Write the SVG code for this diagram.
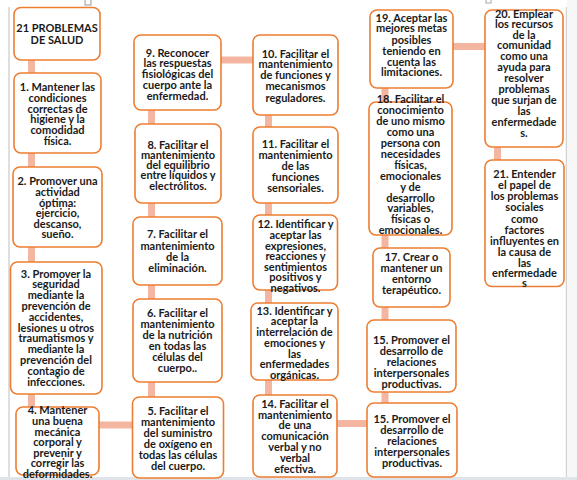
<svg xmlns="http://www.w3.org/2000/svg" width="577" height="480" viewBox="0 0 577 480">
<style>
.box{fill:#fff;stroke:#ED7D31;stroke-width:1.6}
.c{stroke:#F4B6A0;stroke-width:7;fill:none}
text{font-family:Lato,"Liberation Sans",sans-serif;font-weight:bold;font-size:11px;fill:#1a1a1a;text-anchor:middle;dominant-baseline:central}
.frame{stroke:#d4d4d4;stroke-width:1.5;fill:none}
</style>
<rect x="0" y="0" width="577" height="480" fill="#fff"/>
<g id="frame">
<line class="frame" x1="9" y1="7" x2="9" y2="480"/>
<line class="frame" x1="566.5" y1="7" x2="566.5" y2="480"/>
<rect x="567" y="0" width="10" height="480" fill="#f7f7f7"/>
<rect x="0" y="477" width="577" height="3" fill="#dfe4ea"/>
<rect x="85" y="-1" width="6" height="6" fill="#fff" stroke="#999" stroke-width="1"/>
<rect x="486" y="-1" width="5" height="4" fill="#fff" stroke="#aaa" stroke-width="1"/>
</g>
<g id="connectors">
<line class="c" x1="31.5" y1="60" x2="31.5" y2="73"/>
<line class="c" x1="31.5" y1="153" x2="31.5" y2="167"/>
<line class="c" x1="31.5" y1="247" x2="31.5" y2="262"/>
<line class="c" x1="31.5" y1="394" x2="31.5" y2="407"/>
<line class="c" x1="99" y1="425" x2="133" y2="425"/>
<line class="c" x1="151.5" y1="382" x2="151.5" y2="397"/>
<line class="c" x1="151.5" y1="285" x2="151.5" y2="299"/>
<line class="c" x1="151.5" y1="203" x2="151.5" y2="217"/>
<line class="c" x1="151.5" y1="110" x2="151.5" y2="124"/>
<line class="c" x1="221" y1="60" x2="253" y2="60"/>
<line class="c" x1="268.5" y1="115" x2="268.5" y2="127"/>
<line class="c" x1="268.5" y1="203" x2="268.5" y2="215"/>
<line class="c" x1="268.5" y1="290" x2="268.5" y2="303"/>
<line class="c" x1="268.5" y1="380" x2="268.5" y2="395"/>
<line class="c" x1="337" y1="423.5" x2="367" y2="423.5"/>
<line class="c" x1="385" y1="392" x2="385" y2="403"/>
<line class="c" x1="385" y1="307" x2="385" y2="320"/>
<line class="c" x1="385" y1="235" x2="385" y2="248"/>
<line class="c" x1="385" y1="88" x2="385" y2="102"/>
<line class="c" x1="453" y1="46.5" x2="485" y2="46.5"/>
<line class="c" x1="497.5" y1="147" x2="497.5" y2="160"/>
</g>
<g id="n0">
<rect class="box" x="14" y="7.5" width="86" height="52.5" rx="7"/>
<text x="57" y="27">21 PROBLEMAS</text>
<text x="57" y="39">DE SALUD</text>
</g>
<g id="n1">
<rect class="box" x="14" y="73" width="87" height="80" rx="7"/>
<text x="57.5" y="86">1. Mantener las</text>
<text x="57.5" y="97">condiciones</text>
<text x="57.5" y="108">correctas de</text>
<text x="57.5" y="118.5">higiene y la</text>
<text x="57.5" y="129">comodidad</text>
<text x="57.5" y="140">física.</text>
</g>
<g id="n2">
<rect class="box" x="13" y="167" width="89" height="80" rx="7"/>
<text x="57.5" y="180">2. Promover una</text>
<text x="57.5" y="191">actividad</text>
<text x="57.5" y="202">óptima:</text>
<text x="57.5" y="212.5">ejercicio,</text>
<text x="57.5" y="223">descanso,</text>
<text x="57.5" y="233.5">sueño.</text>
</g>
<g id="n3">
<rect class="box" x="10.5" y="262" width="91.5" height="132" rx="7"/>
<text x="56" y="273">3. Promover la</text>
<text x="56" y="283.8">seguridad</text>
<text x="56" y="294.6">mediante la</text>
<text x="56" y="305.4">prevención de</text>
<text x="56" y="316.2">accidentes,</text>
<text x="56" y="327">lesiones u otros</text>
<text x="56" y="337.8">traumatismos y</text>
<text x="56" y="348.6">mediante la</text>
<text x="56" y="359.4">prevención del</text>
<text x="56" y="370.2">contagio de</text>
<text x="56" y="381">infecciones.</text>
</g>
<g id="n4">
<rect class="box" x="16" y="407" width="83" height="68" rx="7"/>
<text x="57.5" y="409">4. Mantener</text>
<text x="57.5" y="420">una buena</text>
<text x="57.5" y="431">mecánica</text>
<text x="57.5" y="441.5">corporal y</text>
<text x="57.5" y="452">prevenir y</text>
<text x="57.5" y="462.5">corregir las</text>
<text x="57.5" y="473">deformidades.</text>
</g>
<g id="n5">
<rect class="box" x="132.5" y="397" width="91" height="81" rx="7"/>
<text x="178" y="410">5. Facilitar el</text>
<text x="178" y="421.5">mantenimiento</text>
<text x="178" y="432.5">del suministro</text>
<text x="178" y="443">de oxígeno en</text>
<text x="178" y="454">todas las células</text>
<text x="178" y="465">del cuerpo.</text>
</g>
<g id="n6">
<rect class="box" x="133" y="299" width="89" height="83" rx="7"/>
<text x="177.5" y="312">6. Facilitar el</text>
<text x="177.5" y="323">mantenimiento</text>
<text x="177.5" y="334.5">de la nutrición</text>
<text x="177.5" y="345.5">en todas las</text>
<text x="177.5" y="356.5">células del</text>
<text x="177.5" y="367.5">cuerpo..</text>
</g>
<g id="n7">
<rect class="box" x="133" y="217" width="89" height="68" rx="7"/>
<text x="177.5" y="233.5">7. Facilitar el</text>
<text x="177.5" y="245">mantenimiento</text>
<text x="177.5" y="256">de la</text>
<text x="177.5" y="267">eliminación.</text>
</g>
<g id="n8">
<rect class="box" x="135" y="124" width="86" height="79" rx="7"/>
<text x="178" y="144">8. Facilitar el</text>
<text x="178" y="154">mantenimiento</text>
<text x="178" y="164">del equilibrio</text>
<text x="178" y="174">entre líquidos y</text>
<text x="178" y="185">electrólitos.</text>
</g>
<g id="n9">
<rect class="box" x="134" y="35" width="87" height="75" rx="7"/>
<text x="177.5" y="52">9. Reconocer</text>
<text x="177.5" y="62.5">las respuestas</text>
<text x="177.5" y="73">fisiológicas del</text>
<text x="177.5" y="84">cuerpo ante la</text>
<text x="177.5" y="95">enfermedad.</text>
</g>
<g id="n10">
<rect class="box" x="253" y="35" width="85" height="80" rx="7"/>
<text x="295.5" y="53">10. Facilitar el</text>
<text x="295.5" y="63.5">mantenimiento</text>
<text x="295.5" y="74.5">de funciones y</text>
<text x="295.5" y="85.5">mecanismos</text>
<text x="295.5" y="97">reguladores.</text>
</g>
<g id="n11">
<rect class="box" x="253" y="127" width="85" height="76" rx="7"/>
<text x="295.5" y="143.5">11. Facilitar el</text>
<text x="295.5" y="154">mantenimiento</text>
<text x="295.5" y="165">de las</text>
<text x="295.5" y="176">funciones</text>
<text x="295.5" y="187">sensoriales.</text>
</g>
<g id="n12">
<rect class="box" x="253" y="215" width="84.5" height="75" rx="7"/>
<text x="295.5" y="223">12. Identificar y</text>
<text x="295.5" y="234">aceptar las</text>
<text x="295.5" y="245">expresiones,</text>
<text x="295.5" y="255.5">reacciones y</text>
<text x="295.5" y="266">sentimientos</text>
<text x="295.5" y="276.5">positivos y</text>
<text x="295.5" y="287">negativos.</text>
</g>
<g id="n13">
<rect class="box" x="251" y="303" width="87" height="77" rx="7"/>
<text x="294.5" y="310">13. Identificar y</text>
<text x="294.5" y="320.5">aceptar la</text>
<text x="294.5" y="331">interrelación de</text>
<text x="294.5" y="342">emociones y</text>
<text x="294.5" y="353">las</text>
<text x="294.5" y="363.5">enfermedades</text>
<text x="294.5" y="374">orgánicas.</text>
</g>
<g id="n14">
<rect class="box" x="253" y="395" width="84" height="82" rx="7"/>
<text x="295" y="403">14. Facilitar el</text>
<text x="295" y="414">mantenimiento</text>
<text x="295" y="424.5">de una</text>
<text x="295" y="435">comunicación</text>
<text x="295" y="446">verbal y no</text>
<text x="295" y="457">verbal</text>
<text x="295" y="468">efectiva.</text>
</g>
<g id="n15a">
<rect class="box" x="367" y="320" width="89" height="72" rx="7"/>
<text x="411.5" y="339">15. Promover el</text>
<text x="411.5" y="350">desarrollo de</text>
<text x="411.5" y="361">relaciones</text>
<text x="411.5" y="372">interpersonales</text>
<text x="411.5" y="383">productivas.</text>
</g>
<g id="n15b">
<rect class="box" x="367" y="403" width="90" height="74" rx="7"/>
<text x="412" y="418">15. Promover el</text>
<text x="412" y="429">desarrollo de</text>
<text x="412" y="440">relaciones</text>
<text x="412" y="451">interpersonales</text>
<text x="412" y="462">productivas.</text>
</g>
<g id="n17">
<rect class="box" x="373" y="248" width="77" height="59" rx="7"/>
<text x="411.5" y="256">17. Crear o</text>
<text x="411.5" y="267">mantener un</text>
<text x="411.5" y="278">entorno</text>
<text x="411.5" y="289">terapéutico.</text>
</g>
<g id="n18">
<rect class="box" x="369" y="102" width="83" height="133" rx="7"/>
<text x="410.5" y="98">18. Facilitar el</text>
<text x="410.5" y="109">conocimiento</text>
<text x="410.5" y="120">de uno mismo</text>
<text x="410.5" y="131">como una</text>
<text x="410.5" y="142">persona con</text>
<text x="410.5" y="153">necesidades</text>
<text x="410.5" y="164">físicas,</text>
<text x="410.5" y="175">emocionales</text>
<text x="410.5" y="186">y de</text>
<text x="410.5" y="197">desarrollo</text>
<text x="410.5" y="207.5">variables,</text>
<text x="410.5" y="218">físicas o</text>
<text x="410.5" y="229">emocionales.</text>
</g>
<g id="n19">
<rect class="box" x="370" y="10" width="83" height="78" rx="7"/>
<text x="411.5" y="17">19. Aceptar las</text>
<text x="411.5" y="27.5">mejores metas</text>
<text x="411.5" y="39">posibles</text>
<text x="411.5" y="50">teniendo en</text>
<text x="411.5" y="61">cuenta las</text>
<text x="411.5" y="71.5">limitaciones.</text>
</g>
<g id="n20">
<rect class="box" x="485" y="10" width="78" height="137" rx="7"/>
<text x="524" y="13">20. Emplear</text>
<text x="524" y="23.5">los recursos</text>
<text x="524" y="34">de la</text>
<text x="524" y="44.5">comunidad</text>
<text x="524" y="55">como una</text>
<text x="524" y="66">ayuda para</text>
<text x="524" y="77">resolver</text>
<text x="524" y="88">problemas</text>
<text x="524" y="99">que surjan de</text>
<text x="524" y="110">las</text>
<text x="524" y="121">enfermedade</text>
<text x="524" y="132">s.</text>
</g>
<g id="n21">
<rect class="box" x="485" y="160" width="79" height="126.5" rx="7"/>
<text x="524.5" y="173">21. Entender</text>
<text x="524.5" y="184">el papel de</text>
<text x="524.5" y="195.5">los problemas</text>
<text x="524.5" y="206.5">sociales</text>
<text x="524.5" y="218">como</text>
<text x="524.5" y="229">factores</text>
<text x="524.5" y="240">influyentes en</text>
<text x="524.5" y="251">la causa de</text>
<text x="524.5" y="262">las</text>
<text x="524.5" y="272.5">enfermedade</text>
<text x="524.5" y="282.5">s</text>
</g>
</svg>
